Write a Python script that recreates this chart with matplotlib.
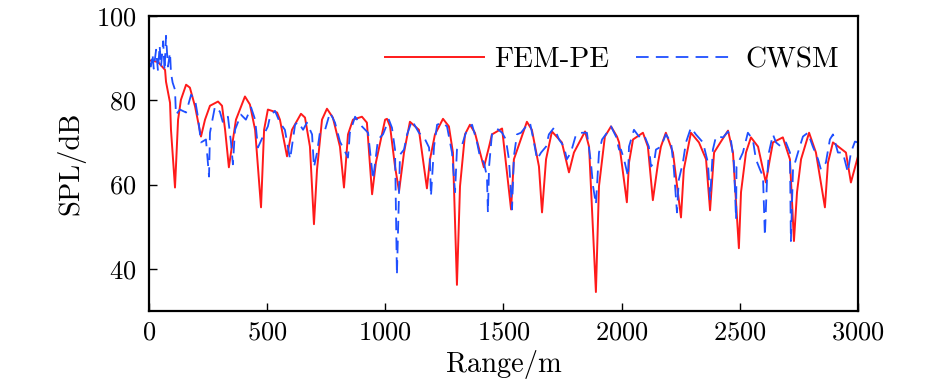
import matplotlib
matplotlib.use("Agg")
import matplotlib.pyplot as plt

plt.rcParams['font.family'] = 'cmr10'
plt.rcParams['axes.formatter.use_mathtext'] = True
plt.rcParams['mathtext.fontset'] = 'cm'

# FEM-PE (red, solid)
fem_r = [0, 38, 68, 72, 89, 93, 110, 123, 135, 157, 173, 195, 220, 237, 258, 292, 309,
         322, 338, 347, 368, 406, 427, 449, 474, 487, 503, 542, 554, 584, 605, 643, 660,
         681, 698, 711, 732, 753, 778, 808, 825, 842, 863, 901, 922, 944, 960, 999, 1007,
         1020, 1041, 1058, 1079, 1104, 1142, 1176, 1189, 1210, 1244, 1269, 1286, 1303, 1316,
         1337, 1358, 1379, 1417, 1439, 1451, 1494, 1532, 1544, 1599, 1620, 1650, 1663, 1680,
         1705, 1747, 1777, 1798, 1845, 1862, 1891, 1904, 1929, 1955, 1980, 1989, 2022, 2031,
         2048, 2090, 2111, 2132, 2154, 2166, 2187, 2217, 2251, 2263, 2293, 2327, 2357, 2374,
         2391, 2420, 2450, 2471, 2496, 2505, 2526, 2547, 2577, 2610, 2627, 2640, 2682, 2712,
         2729, 2742, 2759, 2793, 2822, 2860, 2873, 2894, 2949, 2970, 3000]
fem_spl = [89.5, 89.1, 87.2, 84.4, 79.4, 73.0, 59.3, 75.4, 80.1, 83.7, 83.0, 78.5, 71.4, 75.4,
           78.7, 79.7, 78.7, 73.0, 64.1, 67.6, 75.4, 80.9, 79.0, 73.0, 54.6, 73.0, 77.8, 77.1,
           75.4, 66.7, 73.0, 76.8, 75.9, 69.0, 50.6, 63.6, 75.4, 78.0, 75.9, 69.0, 59.3, 71.9,
           75.4, 76.1, 74.7, 57.7, 65.2, 75.4, 75.6, 73.8, 64.3, 58.4, 67.6, 74.9, 73.0, 59.1,
           66.0, 71.9, 75.6, 73.8, 67.6, 36.2, 59.6, 71.9, 74.2, 72.3, 64.1, 69.0, 71.9, 73.3,
           54.1, 66.0, 74.9, 73.0, 64.3, 53.4, 66.0, 72.6, 70.0, 62.9, 67.6, 72.6, 69.0, 34.5,
           59.6, 71.4, 73.8, 71.4, 70.0, 55.8, 65.2, 70.7, 72.3, 69.0, 56.3, 65.2, 69.0, 72.3,
           67.6, 52.2, 63.6, 72.3, 70.0, 66.0, 53.9, 67.6, 70.2, 72.8, 67.6, 44.9, 58.2, 67.6,
           71.2, 69.0, 60.5, 66.0, 70.0, 71.2, 66.0, 46.6, 58.2, 66.0, 72.3, 67.6, 54.6, 65.2,
           70.0, 67.6, 60.5, 66.7]

# CWSM (blue, dashed)
cwsm_r = [0, 8, 15, 20, 30, 38, 45, 51, 60, 66, 72, 80, 89, 93, 100, 110, 114, 131, 157, 178,
          195, 207, 220, 241, 254, 258,
          279, 300, 313, 334, 347, 355, 364, 389, 410, 432, 449, 461, 482, 503, 512, 533, 554,
          575, 597, 618, 630, 652, 668, 690, 698, 711, 723, 745, 766, 787, 808, 842, 850, 872,
          901, 927, 948, 969, 990, 1015, 1028, 1041, 1049, 1062, 1079, 1092, 1113, 1142, 1164,
          1185, 1189, 1193, 1206, 1219, 1240, 1261, 1282, 1295, 1303, 1324, 1345, 1367, 1388,
          1400, 1417, 1430, 1434, 1439, 1451, 1472, 1494, 1510, 1523, 1536, 1544, 1557, 1574,
          1595, 1612, 1629, 1642, 1659, 1680, 1692, 1714, 1735, 1756, 1768, 1785, 1807, 1832,
          1853, 1870, 1879, 1891, 1904, 1917, 1938, 1955, 1976, 1989, 1997, 2010, 2027, 2031,
          2052, 2073, 2094, 2115, 2124, 2137, 2145, 2166, 2187, 2209, 2221, 2234, 2242, 2259,
          2272, 2293, 2314, 2344, 2365, 2374, 2386, 2399, 2429, 2450, 2462, 2475, 2484, 2486,
          2500, 2513, 2534, 2555, 2568, 2585, 2598, 2606, 2615, 2623, 2640, 2653, 2674, 2695,
          2712, 2716, 2725, 2746, 2767, 2788, 2809, 2831, 2843, 2864, 2881, 2894, 2915, 2936,
          2957, 2970, 2987, 3000]
cwsm_spl = [89.0, 88.0, 91.0, 87.5, 92.0, 87.0, 93.0, 88.0, 94.0, 87.0, 95.3, 88.0, 91.3,
            86.5, 84.2, 82.5, 76.6, 77.8, 77.1, 81.3,
            80.1, 76.1, 70.0, 70.7, 61.9, 72.3, 78.5, 77.3, 74.7, 76.1, 70.0, 64.8, 73.0, 76.6,
            75.4, 78.3, 75.4, 68.8, 71.4, 73.8, 76.1, 77.5, 74.7, 73.0, 66.0, 74.2, 74.9, 73.0,
            74.7, 71.9, 64.1, 67.6, 72.3, 73.0, 77.1, 74.7, 70.2, 66.4, 72.3, 76.1, 73.8, 72.3,
            61.2, 70.7, 71.9, 75.4, 73.5, 68.3, 38.5, 67.1, 68.3, 71.9, 75.2, 72.3, 71.2, 68.8,
            65.2, 57.2, 69.0, 74.2, 74.7, 73.8, 67.6, 58.2, 68.3, 69.3, 73.0, 74.2, 70.0, 66.7,
            65.2, 61.9, 53.4, 64.3, 71.9, 73.3, 72.3, 70.7, 66.0, 54.1, 66.7, 71.9, 72.3, 73.8,
            74.7, 70.0, 66.0, 67.6, 69.0, 71.9, 73.5, 70.7, 69.0, 66.0, 67.6, 71.9, 72.3, 72.3,
            65.2, 59.6, 55.3, 67.6, 70.7, 72.3, 73.8, 71.4, 68.3, 68.3, 66.0, 61.9, 69.0, 73.0,
            71.4, 71.9, 69.0, 64.3, 65.2, 68.3, 69.0, 71.9, 70.0, 63.6, 53.4, 61.2, 65.2, 70.0,
            73.5, 71.9, 70.0, 65.2, 56.5, 68.3, 71.4, 71.2, 72.6, 70.7, 65.2, 51.8, 64.3, 66.0,
            67.6, 72.3, 70.7, 66.0, 63.6, 61.9, 47.8, 61.2, 67.6, 71.9, 70.0, 69.0, 70.0, 67.6,
            46.6, 63.6, 67.6, 71.4, 72.3, 69.0, 66.0, 63.6, 65.2, 70.7, 71.9, 67.6, 67.6, 62.9,
            67.6, 70.2, 70.0]

xticks = [0, 500, 1000, 1500, 2000, 2500, 3000]
yticks = [40, 60, 80, 100]

fig = plt.figure(figsize=(9.45, 3.9), dpi=100)
ax = fig.add_axes([149 / 945, 1 - 311 / 390, 709 / 945, 295 / 390])

ax.plot(fem_r, fem_spl, color='#ff1a1a', lw=1.4, label='FEM-PE')
ax.plot(cwsm_r, cwsm_spl, color='#1f4fff', lw=1.3, ls=(0, (7, 4)), label='CWSM')

ax.set_xlim(0, 3000)
ax.set_ylim(30, 100)
ax.set_xticks(xticks)
ax.set_yticks(yticks)
ax.tick_params(direction='in', length=6, width=1, labelsize=19)
ax.tick_params(axis='y', pad=9)
ax.tick_params(axis='x', pad=7)
for s in ax.spines.values():
    s.set_linewidth(1.6)

ax.set_xlabel('Range/m', fontsize=20.5, labelpad=4)
ax.set_ylabel('SPL/dB', fontsize=20.5, labelpad=8)

ax.legend(loc='center right', ncol=2, frameon=False, fontsize=21,
          handlelength=3.4, handletextpad=0.35, columnspacing=0.9,
          borderpad=0, borderaxespad=0,
          bbox_to_anchor=(839 / 945, 1 - 60 / 390), bbox_transform=fig.transFigure)

fig.savefig('out.png', dpi=100)
